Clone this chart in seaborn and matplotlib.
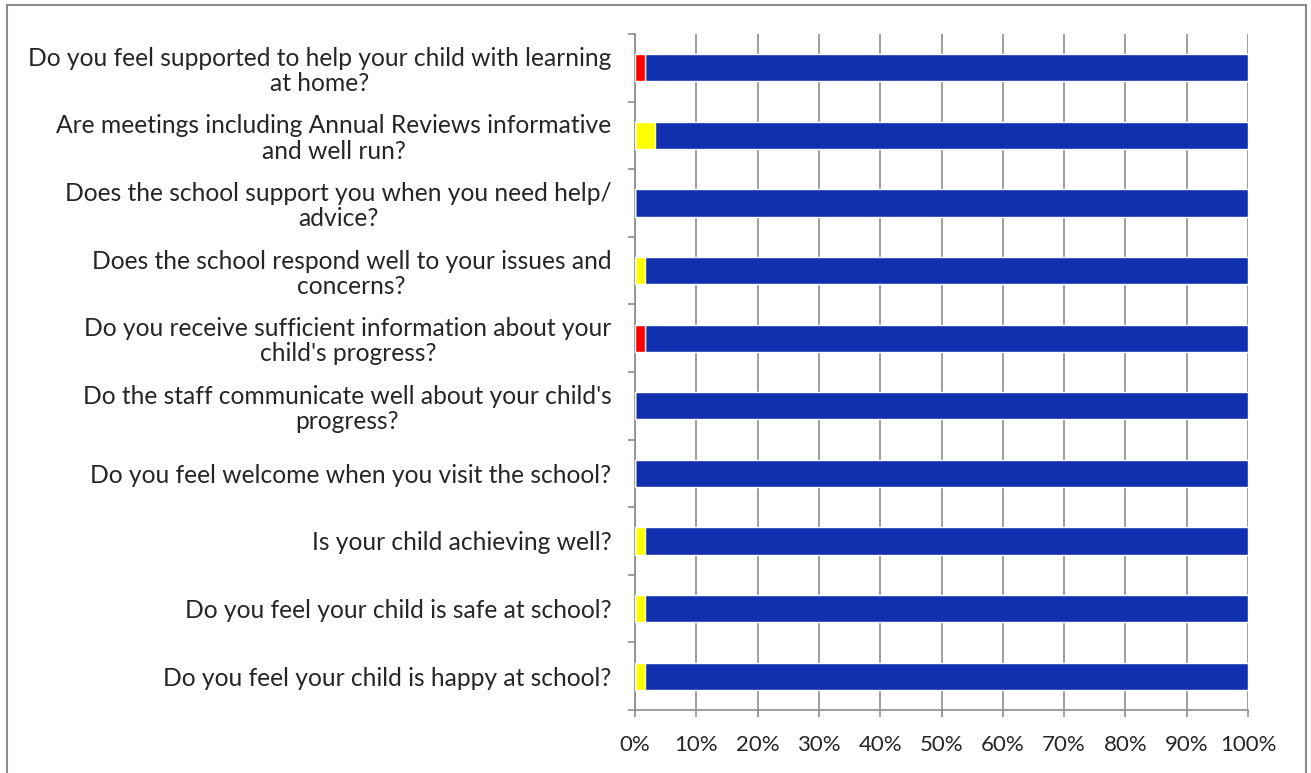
import numpy as np
import pandas as pd
import matplotlib
matplotlib.use("Agg")
import matplotlib.pyplot as plt
import seaborn as sns
from matplotlib.patches import Rectangle


# Survey questions, top to bottom.
questions = [
    "Do you feel supported to help your child with learning\nat home?",
    "Are meetings including Annual Reviews informative\nand well run?",
    "Does the school support you when you need help/\nadvice?",
    "Does the school respond well to your issues and\nconcerns?",
    "Do you receive sufficient information about your\nchild's progress?",
    "Do the staff communicate well about your child's\nprogress?",
    "Do you feel welcome when you visit the school?",
    "Is your child achieving well?",
    "Do you feel your child is safe at school?",
    "Do you feel your child is happy at school?",
]

# Percent of answers per colour (red / yellow / blue).
red = [1.64, 0, 0, 0, 1.64, 0, 0, 0, 0, 0]
yellow = [0, 3.28, 0, 1.64, 0, 0, 0, 1.64, 1.64, 1.64]
blue = [98.36, 96.72, 100, 98.36, 98.36, 100, 100, 98.36, 98.36, 98.36]

x_ticks = [0, 10, 20, 30, 40, 50, 60, 70, 80, 90, 100]


df = pd.DataFrame({"question": questions, "red": red, "yellow": yellow, "blue": blue})
df["cum_yellow"] = df["red"] + df["yellow"]
df["cum_blue"] = df["cum_yellow"] + df["blue"]

sns.set_style("white")
plt.rcParams["font.family"] = ["Lato", "DejaVu Sans"]

fig = plt.figure(figsize=(13.11, 7.73), dpi=100)
ax = fig.add_axes([635 / 1311, 1 - 710 / 773, 613 / 1311, 676 / 773])

# Stacked bars: draw the totals first, then smaller cumulative sums on top.
sns.barplot(data=df, x="cum_blue", y="question", color="#1030B0", width=0.405,
            saturation=1, orient="h", ax=ax, zorder=3)
sns.barplot(data=df, x="cum_yellow", y="question", color="#FFFF00", width=0.405,
            saturation=1, orient="h", ax=ax, zorder=3)
sns.barplot(data=df, x="red", y="question", color="#FF0000", width=0.405,
            saturation=1, orient="h", ax=ax, zorder=3)

ax.set_xlim(0, 100)
ax.set_ylim(9.5, -0.5)
ax.set_xticks(x_ticks)
ax.set_xticklabels([f"{t}%" for t in x_ticks], fontsize=16)
ax.set_xlabel("")
ax.set_ylabel("")
ax.xaxis.grid(True, color="#8c8c8c", linewidth=1.2, zorder=0)
ax.set_axisbelow(True)

# Labels at category centres, tick marks at category boundaries.
ax.set_yticks(np.arange(10))
ax.set_yticklabels(questions, fontsize=17.7, multialignment="center", linespacing=1.12)
ax.set_yticks(np.arange(-0.5, 10, 1), minor=True)
ax.tick_params(axis="y", which="major", length=0, pad=17)
ax.tick_params(axis="y", which="minor", length=5, width=1.2, color="#8c8c8c", left=True)
ax.tick_params(axis="x", length=5, width=1.2, color="#8c8c8c", bottom=True, pad=13)

for side in ["top", "right"]:
    ax.spines[side].set_visible(False)
for side in ["left", "bottom"]:
    ax.spines[side].set_color("#8c8c8c")
    ax.spines[side].set_linewidth(1.2)

# Chart frame around the figure.
fig.patches.append(Rectangle((7 / 1311, -0.05), 1299 / 1311, 1.05 - 5 / 773,
                             transform=fig.transFigure, fill=False,
                             edgecolor="#8c8c8c", linewidth=1.5))

fig.savefig("out.png", dpi=100)
